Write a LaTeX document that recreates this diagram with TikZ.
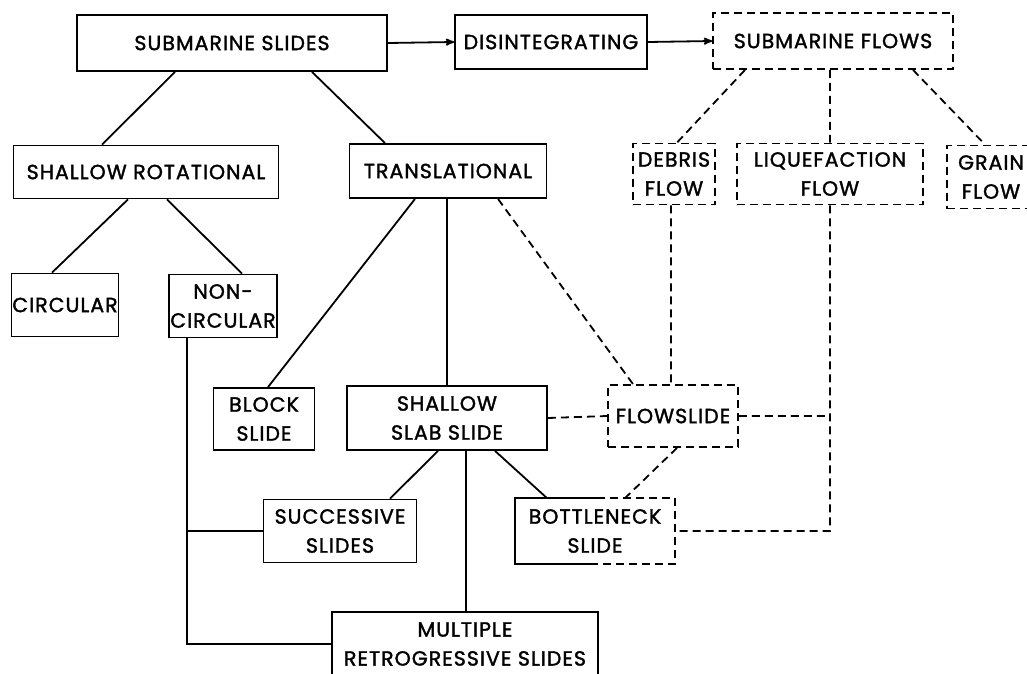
\documentclass[tikz,border=0pt]{standalone}
\usepackage{fontspec}
\setmainfont{Poppins}[UprightFeatures={FakeBold=1.6}, LetterSpace=5]
\usetikzlibrary{arrows}

\begin{document}
\begin{tikzpicture}[x=1pt, y=-1pt, >=stealth', line width=1.8pt,
    font=\fontsize{20.5}{29}\selectfont,
    box/.style={draw, rectangle, inner sep=0pt, align=center},
    dbox/.style={box, dash pattern=on 8pt off 5pt},
    link/.style={draw},
    dlink/.style={draw, dash pattern=on 8pt off 5pt}]
    \clip (0,0) rectangle (1027,673);

    %define the boxes
    \node[box, minimum width=310, minimum height=56]  (ss)    at (232,43)  {SUBMARINE SLIDES};
    \node[box, minimum width=192, minimum height=54]  (dis)   at (551,42)  {DISINTEGRATING};
    \node[dbox, minimum width=240, minimum height=56] (sf)    at (833,41)  {SUBMARINE FLOWS};
    \node[box, minimum width=265, minimum height=53]  (sr)    at (146,172) {SHALLOW ROTATIONAL};
    \node[box, minimum width=197, minimum height=54]  (tr)    at (448,171) {TRANSLATIONAL};
    \node[dbox, minimum width=82, minimum height=61]  (deb)   at (674,174) {DEBRIS\\FLOW};
    \node[dbox, minimum width=186, minimum height=61] (liq)   at (830,174) {LIQUEFACTION\\FLOW};
    \node[dbox, minimum width=88, minimum height=63]  (grain) at (991,177) {GRAIN\\FLOW};
    \node[box, minimum width=107, minimum height=63]  (cir)   at (65,305)  {CIRCULAR};
    \node[box, minimum width=108, minimum height=63]  (nc)    at (223,306) {NON-\\CIRCULAR};
    \node[box, minimum width=101, minimum height=62]  (blk)   at (264,419) {BLOCK\\SLIDE};
    \node[box, minimum width=200, minimum height=64]  (sss)   at (447,418) {SHALLOW\\SLAB SLIDE};
    \node[dbox, minimum width=130, minimum height=62] (fs)    at (673,416) {FLOWSLIDE};
    \node[inner sep=0pt, align=center, minimum width=158, minimum height=64] (bot) at (595,531) {BOTTLENECK\\SLIDE};
    \node[box, minimum width=153, minimum height=63]  (suc)   at (340,531) {SUCCESSIVE\\SLIDES};
    \node[box, minimum width=266, minimum height=64]  (mult)  at (465,644) {MULTIPLE\\RETROGRESSIVE SLIDES};

    %bottleneck box, half solid and half dashed
    \draw ([xshift=2]bot.north) -| (bot.south west) -- ([xshift=3]bot.south);
    \draw[dlink] ([xshift=2]bot.north) -- (bot.north east) -- (bot.south east) -- ([xshift=3]bot.south);

    %define the links
    \draw[->] (ss.east) -- (dis.west);
    \draw[->] (dis.east) -- (sf.west);
    \path[link] ([xshift=-57]ss.south) -- ([xshift=-44]sr.north)
                ([xshift=80]ss.south)  -- ([xshift=-63]tr.north)
                ([xshift=-18]sr.south) -- ([xshift=-13]cir.north)
                ([xshift=21]sr.south)  -- ([xshift=19]nc.north)
                ([xshift=-33]tr.south) -- ([xshift=4]blk.north)
                (sss.north |- tr.south) -- (sss.north)
                ([xshift=48]sss.south) -- ([xshift=-48]bot.north)
                ([xshift=-9]sss.south) -- ([xshift=50]suc.north)
                ([xshift=19]sss.south) -- ([xshift=19]sss.south |- mult.north);
    \path[dlink] ([xshift=-88]sf.south) -- ([xshift=3]deb.north)
                 (liq.north |- sf.south) -- (liq.north)
                 ([xshift=80]sf.south)  -- ([xshift=-6]grain.north)
                 ([xshift=50]tr.south)  -- ([xshift=-40]fs.north)
                 ([xshift=-3]deb.south) -- ([xshift=-3]deb.south |- fs.north)
                 (sss.east) -- (fs.west)
                 (fs.east) -- (fs.east -| liq.south)
                 (liq.south) |- (bot.east)
                 ([xshift=4]fs.south) -- ([xshift=30]bot.north);

    %stem from the non-circular box
    \coordinate (stem) at ([xshift=-36]nc.south);
    \draw (stem) |- (mult.west);
    \draw (suc.west) -- (suc.west -| stem);
\end{tikzpicture}
\end{document}
